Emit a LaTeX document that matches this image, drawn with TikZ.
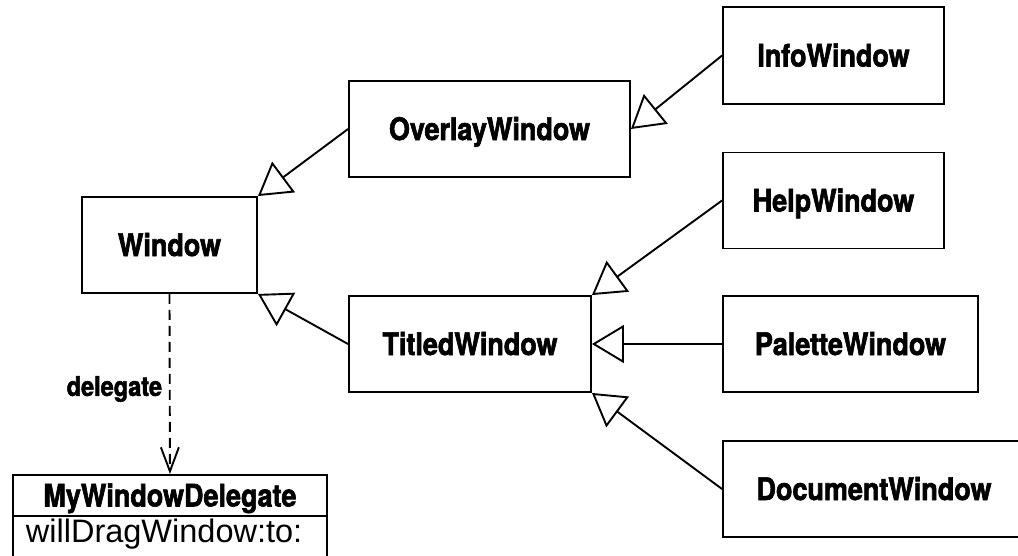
\documentclass[tikz,border=0pt]{standalone}
\usepackage{fontspec}
\setmainfont{Liberation Sans}
\newfontfamily\classfont{TeX Gyre Heros}[BoldFeatures={FakeStretch=0.87,FakeBold=2}]
\usetikzlibrary{arrows.meta}
\begin{document}
\begin{tikzpicture}[x=1pt,y=-1pt,
  line width=1.9pt,
  namefont/.style={font=\classfont\bfseries\fontsize{31pt}{32pt}\selectfont},
  classbox/.style={draw, rectangle, inner sep=0pt, minimum height=96pt,
    namefont, text height=22pt, text depth=0pt},
  inherit/.style={-{Triangle[open,length=32pt,width=38pt,line join=miter]}},
  delegation/.style={dash pattern=on 10pt off 6pt,
    -{Straight Barb[length=24pt,width=18pt]}},
]
\useasboundingbox (0,0) rectangle (1018,555);

% class hierarchy
\node[classbox, minimum width=175pt] (window)   at (169.5,245) {Window};
\node[classbox, minimum width=281pt] (overlay)  at (489.5,129) {OverlayWindow};
\node[classbox, minimum width=242pt] (titled)   at (470,344)   {TitledWindow};
\node[classbox, minimum width=221pt, minimum height=97pt] (info) at (833.5,55.5) {InfoWindow};
\node[classbox, minimum width=221pt] (help)     at (833.5,200.5) {HelpWindow};
\node[classbox, minimum width=255pt] (palette)  at (850.5,344) {PaletteWindow};
\node[classbox, minimum width=302pt] (document) at (874,489)   {DocumentWindow};

% delegate class
\node[draw, rectangle, inner sep=0pt, anchor=north west,
  minimum width=314pt, minimum height=41pt,
  namefont, text height=22pt, text depth=0pt] (delegate) at (12,474) {MyWindowDelegate};
\node[draw, rectangle, anchor=north west,
  minimum width=314pt, minimum height=44pt] (methods) at (12,515) {};
\node[font=\fontsize{32.5pt}{33pt}\selectfont, anchor=base west, inner sep=0pt]
  (method) at (25,542) {willDragWindow:to:};

% generalisations
\draw[inherit] (overlay.west) -- (window.north east);
\draw[inherit] (titled.west) -- (window.south east);
\draw[inherit] (info.west) -- (overlay.east);
\draw[inherit] (help.west) -- (titled.north east);
\draw[inherit] (palette.west) -- (titled.east);
\draw[inherit] (document.west) -- (titled.south east);

% delegate association
\draw[delegation] (window.south) -- (delegate.north);
\node[font=\classfont\bfseries\fontsize{27pt}{28pt}\selectfont,
  anchor=east, inner sep=0pt] (dlabel) at (163,389) {delegate};
\end{tikzpicture}
\end{document}
